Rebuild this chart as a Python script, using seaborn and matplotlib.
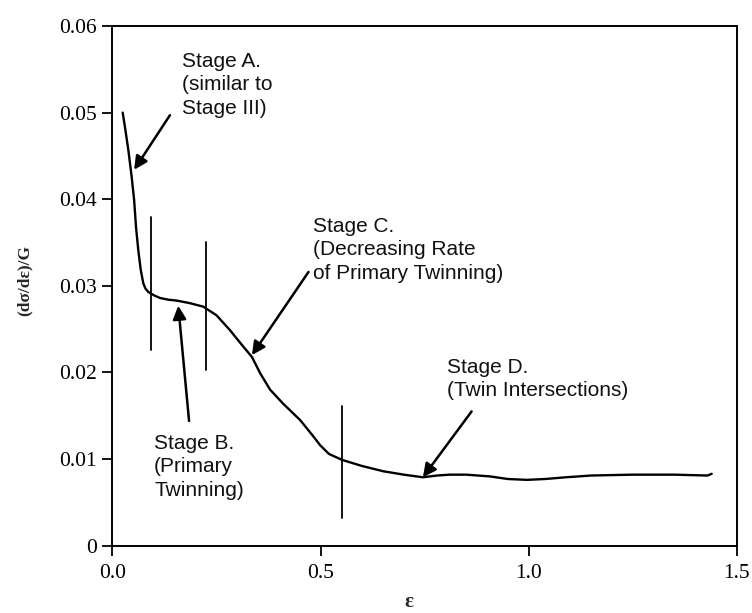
import matplotlib
matplotlib.use("Agg")
import matplotlib.pyplot as plt
import seaborn as sns
import pandas as pd

# Normalised work-hardening rate vs. true strain
strain = [0.0245, 0.031, 0.038, 0.046, 0.052, 0.0565, 0.062, 0.068, 0.074,
          0.079, 0.086, 0.1, 0.114, 0.134, 0.154, 0.186, 0.218, 0.25, 0.282,
          0.314, 0.335, 0.355, 0.379, 0.41, 0.451, 0.483, 0.499, 0.52, 0.552,
          0.6, 0.65, 0.70, 0.746, 0.78, 0.81, 0.85, 0.907, 0.95, 0.996, 1.04,
          1.09, 1.15, 1.25, 1.35, 1.43, 1.44]
rate = [0.0500, 0.0480, 0.0457, 0.0426, 0.0399, 0.0368, 0.0341, 0.0318, 0.0303,
        0.0297, 0.0293, 0.0289, 0.0286, 0.0284, 0.0283, 0.0280, 0.0276, 0.0266,
        0.0249, 0.0230, 0.0218, 0.0199, 0.0180, 0.0164, 0.0145, 0.0126, 0.0116,
        0.0106, 0.0099, 0.0092, 0.0086, 0.0082, 0.0079, 0.0081, 0.0082, 0.0082,
        0.0080, 0.0077, 0.0076, 0.0077, 0.0079, 0.0081, 0.0082, 0.0082, 0.0081,
        0.0083]

# Stage boundaries: x position, lower and upper end of the marker line
boundary_x = [0.0917, 0.2248, 0.552]
boundary_lo = [0.0226, 0.0203, 0.0032]
boundary_hi = [0.0380, 0.0351, 0.0161]

# Stage labels: text, text anchor (top-left), arrow tail, arrow head
stage_text = ["Stage A.\n(similar to\nStage III)",
              "Stage B.\n(Primary\nTwinning)",
              "Stage C.\n(Decreasing Rate\nof Primary Twinning)",
              "Stage D.\n(Twin Intersections)"]
text_x = [0.166, 0.0998, 0.482, 0.803]
text_y = [0.0570, 0.0129, 0.0380, 0.0217]
tail_x = [0.138, 0.184, 0.471, 0.863]
tail_y = [0.0497, 0.0144, 0.0316, 0.0155]
head_x = [0.052, 0.158, 0.335, 0.746]
head_y = [0.0434, 0.0277, 0.0220, 0.0079]

x_ticks = [0.0, 0.5, 1.0, 1.5]
x_ticklabels = ["0.0", "0.5", "1.0", "1.5"]
y_ticks = [0, 0.01, 0.02, 0.03, 0.04, 0.05, 0.06]
y_ticklabels = ["0", "0.01", "0.02", "0.03", "0.04", "0.05", "0.06"]

sns.set_theme(style="white")
plt.rcParams["font.family"] = ["Liberation Serif", "DejaVu Serif"]

fig = plt.figure(figsize=(7.52, 6.13), dpi=100)
ax = fig.add_axes([0.1496, 0.1098, 0.8300, 0.8478])

df = pd.DataFrame({"strain": strain, "rate": rate})
sns.lineplot(data=df, x="strain", y="rate", ax=ax, color="black",
             linewidth=1.7, estimator=None, sort=False)
for line in ax.get_lines():
    line.set_solid_joinstyle("round")
    line.set_solid_capstyle("round")

for bx, lo, hi in zip(boundary_x, boundary_lo, boundary_hi):
    ax.plot([bx, bx], [lo, hi], color="black", linewidth=1.3)

sans = ["Liberation Sans", "DejaVu Sans"]
for txt, tx, ty, ax0, ay0, hx, hy in zip(stage_text, text_x, text_y,
                                          tail_x, tail_y, head_x, head_y):
    ax.text(tx, ty, txt, ha="left", va="top", fontsize=15, family=sans,
            linespacing=1.3, color="#111111")
    ax.annotate("", xy=(hx, hy), xytext=(ax0, ay0),
                arrowprops=dict(arrowstyle="-|>", color="black", lw=1.8,
                                mutation_scale=20, shrinkA=0, shrinkB=0))

ax.set_xlim(0, 1.5)
ax.set_ylim(0, 0.06)
ax.set_xticks(x_ticks)
ax.set_xticklabels(x_ticklabels)
ax.set_yticks(y_ticks)
ax.set_yticklabels(y_ticklabels)
ax.set_xlabel("")
ax.set_ylabel("")
ax.tick_params(axis="both", direction="out", length=7, width=1.3,
               labelsize=15.5, colors="black", bottom=True, left=True)
ax.tick_params(axis="x", pad=6)
ax.tick_params(axis="y", pad=4)
for side in ["left", "right", "top", "bottom"]:
    ax.spines[side].set_visible(True)
    ax.spines[side].set_color("black")
    ax.spines[side].set_linewidth(1.4)

fig.text(0.033, 0.543, "(dσ/dε)/G", rotation=90, ha="center", va="center",
         fontsize=12.5, fontweight="bold")
fig.text(0.544, 0.018, "ε", ha="center", va="center", fontsize=15,
         fontweight="bold")

fig.savefig("out.png", dpi=100, facecolor="white")
